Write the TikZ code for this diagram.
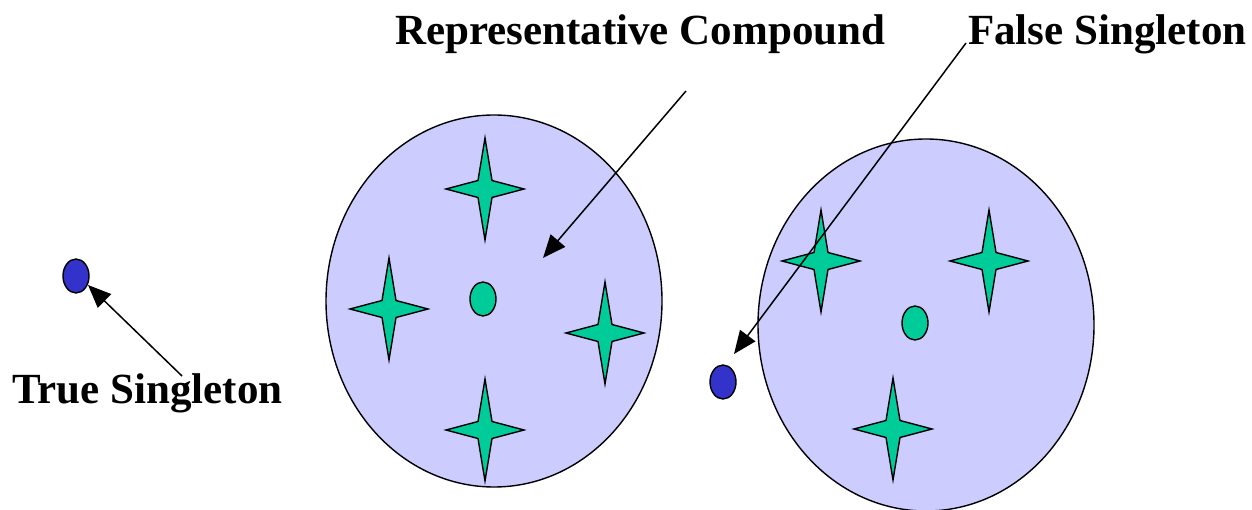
\documentclass[tikz,border=0pt]{standalone}
\usepackage{fontspec}
\setmainfont{Liberation Serif}
\usetikzlibrary{shapes.geometric,arrows.meta}
\definecolor{cloud}{HTML}{CCCCFF}
\definecolor{mint}{HTML}{00CC99}
\definecolor{dotblue}{HTML}{3333CC}
\tikzset{
  x=1pt,y=-1pt,
  cluster/.style={draw=black,fill=cloud,line width=1.4pt},
  dot/.style={ellipse,draw=black,line width=1.4pt,minimum width=26pt,minimum height=34pt,inner sep=0pt},
  greendot/.style={dot,fill=mint},
  bluedot/.style={dot,fill=dotblue},
  label/.style={font=\bfseries\fontsize{43}{48}\selectfont,anchor=base west,inner sep=0pt},
  pointer/.style={draw=black,line width=1.5pt,-{Triangle[length=23pt,width=19pt]}},
  pics/sparkle/.style={code={
    \path[draw=black,fill=mint,line width=1.4pt,line join=miter]
      (0,-51) -- (7,-8.5) -- (39,0) -- (7,8.5) -- (0,51) -- (-7,8.5) -- (-39,0) -- (-7,-8.5) -- cycle;
  }}
}
\begin{document}
\begin{tikzpicture}
\useasboundingbox (0,0) rectangle (1252,510);
% clusters
\path[cluster] (494,301) ellipse [x radius=168,y radius=186];
\path[cluster] (926,325) ellipse [x radius=168,y radius=186];
% stars in left cluster
\pic at (485,189) {sparkle};
\pic at (389,309) {sparkle};
\pic at (605,333) {sparkle};
\pic at (485,430) {sparkle};
% stars in right cluster
\pic at (821,261) {sparkle};
\pic at (989,261) {sparkle};
\pic at (893,429) {sparkle};
% centre compounds
\node[greendot] (repL) at (483,299) {};
\node[greendot] (repR) at (915,323) {};
% singletons
\node[bluedot] (trueS) at (76,276) {};
\node[bluedot] (falseS) at (723,382) {};
% labels
\node[label] (lblRep) at (395,45) {Representative Compound};
\node[label] (lblFalse) at (968,45) {False Singleton};
\node[label] (lblTrue) at (12,403) {True Singleton};
% arrow ends
\coordinate (repStart) at (686,91);
\coordinate (repTip) at (543,258);
\coordinate (falseStart) at (966,43);
\coordinate (falseTip) at (734,354);
\coordinate (trueStart) at (182,376);
\coordinate (trueTip) at (88,285);
\draw[pointer] (repStart) -- (repTip);
\draw[pointer] (falseStart) -- (falseTip);
\draw[pointer] (trueStart) -- (trueTip);
\end{tikzpicture}
\end{document}
